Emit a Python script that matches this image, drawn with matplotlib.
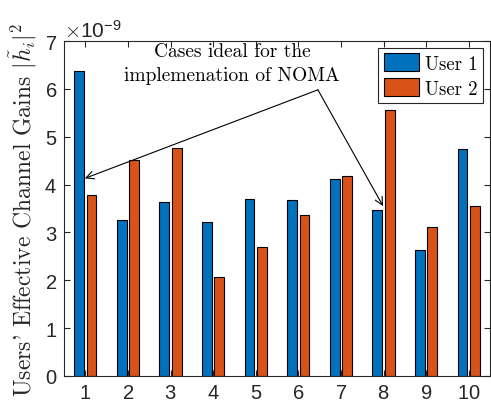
import numpy as np
import matplotlib.pyplot as plt
from matplotlib.ticker import ScalarFormatter

plt.rcParams['mathtext.fontset'] = 'cm'
plt.rcParams['axes.formatter.use_mathtext'] = True

cases = np.arange(1, 11)
user1 = np.array([6.38, 3.26, 3.64, 3.21, 3.69, 3.68, 4.12, 3.46, 2.64, 4.74]) * 1e-9
user2 = np.array([3.79, 4.51, 4.77, 2.07, 2.69, 3.37, 4.18, 5.55, 3.12, 3.56]) * 1e-9
labels = ['User 1', 'User 2']

blue = '#0072BD'
orange = '#D95319'
axcol = '#262626'
serif = 'cmr10'

fig = plt.figure(figsize=(4.91, 4.06), dpi=100)
ax = fig.add_axes([64 / 491, 1 - 377 / 406, 426 / 491, 335 / 406])

w = 0.23
ax.bar(cases - 0.145, user1, w, color=blue, edgecolor='black', linewidth=0.8, label=labels[0])
ax.bar(cases + 0.145, user2, w, color=orange, edgecolor='black', linewidth=0.8, label=labels[1])

ax.set_xlim(0.5, 10.5)
ax.set_ylim(0, 7e-9)
ax.set_xticks(cases)
ax.set_yticks(np.arange(0, 8) * 1e-9)

fmt = ScalarFormatter(useMathText=True)
fmt.set_powerlimits((0, 0))
ax.yaxis.set_major_formatter(fmt)
ax.yaxis.get_offset_text().set_fontsize(15)
ax.yaxis.get_offset_text().set_color(axcol)
ax.yaxis.get_offset_text().set_fontfamily('Liberation Sans')

ax.tick_params(direction='in', top=True, right=True, length=4, width=0.8,
               labelsize=14.5, colors=axcol, pad=5)
for lbl in ax.get_xticklabels() + ax.get_yticklabels():
    lbl.set_fontfamily('Liberation Sans')
for s in ax.spines.values():
    s.set_color(axcol)
    s.set_linewidth(0.8)

ax.set_ylabel("Users' Effective Channel Gains $|\\tilde{h}_i|^2$",
              fontfamily=serif, fontsize=17, color=axcol, labelpad=4)

leg = ax.legend(loc='upper right', prop={'family': serif, 'size': 13.5},
                fancybox=False, edgecolor=axcol, framealpha=1,
                handlelength=1.9, handleheight=1.1, handletextpad=0.3,
                borderpad=0.3, labelspacing=0.3, borderaxespad=0.35)
leg.get_frame().set_linewidth(0.8)

apex = (6.46, 5.98e-9)
for tgt in [(0.99, 4.13e-9), (7.99, 3.55e-9)]:
    ax.annotate('', xy=tgt, xytext=apex,
                arrowprops=dict(arrowstyle='->', color='black', lw=0.8,
                                shrinkA=0, shrinkB=0, mutation_scale=14))
ax.text(4.44, 6.54e-9, 'Cases ideal for the\nimplemenation of NOMA',
        ha='center', va='center', fontfamily=serif, fontsize=14,
        linespacing=1.4)

fig.savefig('out.png', dpi=100)
